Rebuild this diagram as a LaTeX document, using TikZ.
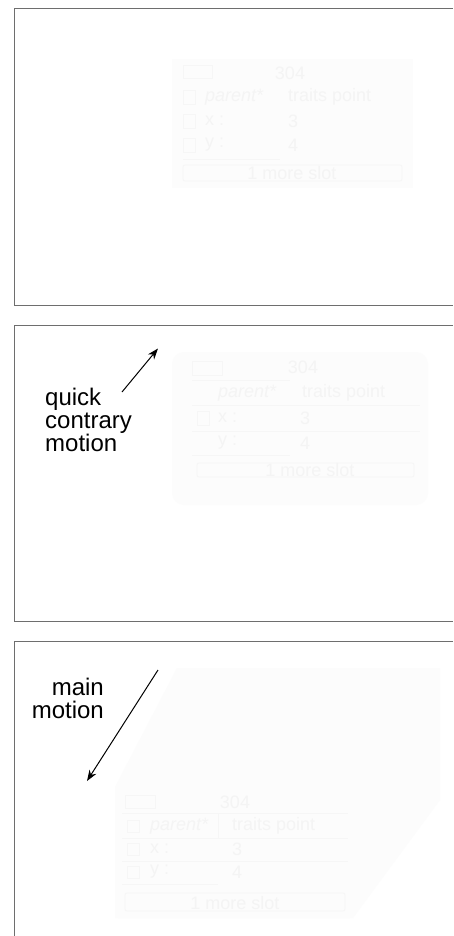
\documentclass[tikz,border=0pt]{standalone}
\usepackage{fontspec}
\setmainfont{Liberation Sans}
\usetikzlibrary{arrows.meta}
\definecolor{framecol}{HTML}{6E6E6E}
\definecolor{faintbg}{HTML}{FCFCFC}
\definecolor{faintfg}{HTML}{F4F4F4}
\definecolor{faintln}{HTML}{F6F6F6}
\tikzset{
  frameline/.style={draw=framecol, line width=1pt},
  label/.style={font=\fontsize{24}{23.3}\selectfont, inner sep=0pt, text=black},
  motionarrow/.style={draw=black, line width=1pt, -{Stealth[length=11pt,width=8pt]}},
  ghostbox/.style={fill=faintbg, draw=none},
  ghosttext/.style={font=\fontsize{18}{18}\selectfont, text=faintfg, inner sep=0pt},
  ghostline/.style={draw=faintln, line width=0.8pt},
  ghostslot/.style={draw=faintln, line width=0.8pt, rounded corners=2pt},
}
\begin{document}
\begin{tikzpicture}[x=1pt, y=-1pt]
\useasboundingbox (0,0) rectangle (453,936);
\fill[white] (0,0) rectangle (453,936);

% ---------- panel 1 ----------
\draw[frameline] (453,9) -- (14,9) -- (14,305.5) -- (453,305.5);
\fill[ghostbox] (172,59) rectangle (413,188);
\draw[ghostline] (183,65) rectangle (212,78);
\node[ghosttext] (p1h) at (290,73) {304};
\draw[ghostline] (183,90) rectangle (195,104);
\node[ghosttext, anchor=west] (p1pa) at (205,97) {\itshape parent*};
\node[ghosttext, anchor=west] (p1tr) at (288,97) {traits point};
\draw[ghostline] (183,114) rectangle (195,128);
\node[ghosttext, anchor=west] (p1x) at (205,121) {x :};
\node[ghosttext, anchor=west] (p1xv) at (288,121) {3};
\draw[ghostline] (183,138) rectangle (195,152);
\node[ghosttext, anchor=west] (p1y) at (205,145) {y :};
\node[ghosttext, anchor=west] (p1yv) at (288,145) {4};
\draw[ghostline] (183,159) -- (280,159);
\draw[ghostslot] (183,165) rectangle (402,181);
\node[ghosttext] (p1m) at (292,173) {1 more slot};

% ---------- panel 2 ----------
\draw[frameline] (453,325) -- (14,325) -- (14,621) -- (453,621);
\fill[ghostbox, rounded corners=12pt] (172,352) rectangle (428,505);
\draw[ghostline] (192,361) rectangle (222,375);
\node[ghosttext] (p2h) at (303,367) {304};
\draw[ghostline] (192,380) -- (290,380);
\node[ghosttext, anchor=west] (p2pa) at (218,393) {\itshape parent*};
\node[ghosttext, anchor=west] (p2tr) at (302,393) {traits point};
\draw[ghostline] (192,405) -- (420,405);
\draw[ghostline] (197,411) rectangle (209,425);
\node[ghosttext, anchor=west] (p2x) at (218,418) {x :};
\node[ghosttext, anchor=west] (p2xv) at (300,418) {3};
\draw[ghostline] (192,431) -- (420,431);
\node[ghosttext, anchor=west] (p2y) at (218,443) {y :};
\node[ghosttext, anchor=west] (p2yv) at (300,443) {4};
\draw[ghostline] (192,455) -- (290,455);
\draw[ghostslot] (197,463) rectangle (414,477);
\node[ghosttext] (p2m) at (310,470) {1 more slot};

\node[label, anchor=north west, align=left] (quick) at (45,387.5) {quick\\contrary\\motion};
\coordinate (qa) at (122,392);
\coordinate (qb) at (158,348.5);
\draw[motionarrow] (qa) -- (qb);

% ---------- panel 3 ----------
\draw[frameline] (453,641) -- (14,641) -- (14,936);
\fill[faintbg] (177,668) -- (440,668) -- (440,800) -- (353,918) -- (115,918) -- (115,787) -- cycle;
\fill[ghostbox, rounded corners=4pt] (115,787) rectangle (353,918);
\draw[ghostline] (125,795) rectangle (155,808);
\node[ghosttext] (p3h) at (235,802) {304};
\draw[ghostline] (122,813) -- (348,813);
\draw[ghostline] (127,820) rectangle (139,832);
\node[ghosttext, anchor=west] (p3pa) at (150,826) {\itshape parent*};
\draw[ghostline] (218,813) -- (218,838);
\node[ghosttext, anchor=west] (p3tr) at (232,826) {traits point};
\draw[ghostline] (122,838) -- (348,838);
\draw[ghostline] (127,843) rectangle (139,855);
\node[ghosttext, anchor=west] (p3x) at (150,849) {x :};
\node[ghosttext, anchor=west] (p3xv) at (232,849) {3};
\draw[ghostline] (122,861) -- (348,861);
\draw[ghostline] (127,866) rectangle (139,878);
\node[ghosttext, anchor=west] (p3y) at (150,872) {y :};
\node[ghosttext, anchor=west] (p3yv) at (232,872) {4};
\draw[ghostline] (122,884) -- (218,884);
\draw[ghostslot] (125,893) rectangle (345,911);
\node[ghosttext] (p3m) at (235,903) {1 more slot};

\node[label, anchor=north east, align=right] (main) at (104,677.5) {main\\motion};
\coordinate (ma) at (158,670);
\coordinate (mb) at (87,781);
\draw[motionarrow] (ma) -- (mb);
\end{tikzpicture}
\end{document}
